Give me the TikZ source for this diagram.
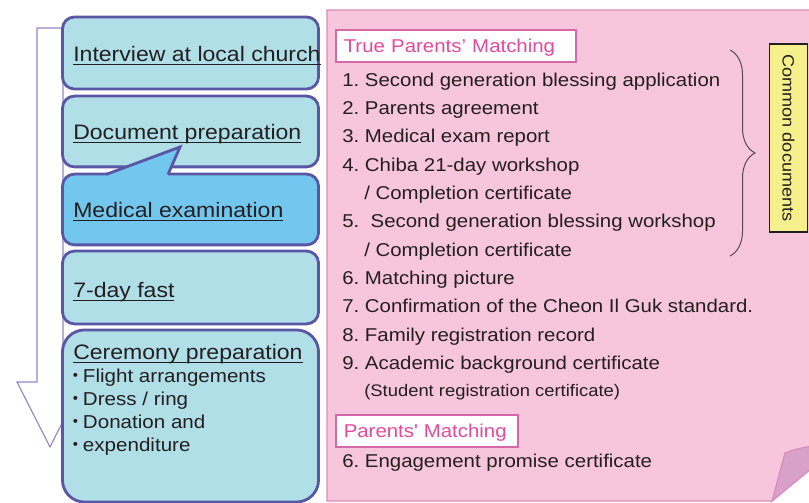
\documentclass[tikz,border=0pt]{standalone}
\usepackage{fontspec}
\setmainfont[FakeStretch=1.1]{Liberation Sans}
\newfontfamily\cjkdot{Noto Sans CJK JP}
\usepackage{tikz}
\usetikzlibrary{decorations.pathreplacing}
\frenchspacing
\definecolor{boxfill}{HTML}{B0DFE7}
\definecolor{medfill}{HTML}{73C7EF}
\definecolor{boxline}{HTML}{5A56A6}
\definecolor{arrline}{HTML}{9485C6}
\definecolor{panelfill}{HTML}{F7C5DC}
\definecolor{panelline}{HTML}{D98BBE}
\definecolor{flapfill}{HTML}{D9A0C9}
\definecolor{tagline}{HTML}{D468A8}
\definecolor{tagtext}{HTML}{E8489B}
\definecolor{txt}{HTML}{231F20}
\definecolor{notefill}{HTML}{F6F08C}
\newlength\ulwd
\newcommand\stepul[1]{\settowidth\ulwd{#1}\rlap{\rule[-2.2pt]{\ulwd}{1.1pt}}#1}
\newcommand\dotmark{\makebox[4.3pt][c]{\cjkdot ・}\hspace{2.6pt}}
\tikzset{stepbox/.style={draw=boxline,fill=boxfill,line width=2pt,rounded corners=0.3cm,minimum width=6.4cm},
  steptext/.style={anchor=base west,inner sep=0pt,text=txt,font=\fontsize{14.9}{18}\selectfont},
  bullet/.style={anchor=base west,inner sep=0pt,text=txt,font=\fontsize{13.3}{16}\selectfont},
  item/.style={anchor=base west,inner sep=0pt,text=txt,font=\fontsize{13.2}{16}\selectfont},
  tagbox/.style={draw=tagline,fill=white,line width=1.8pt,anchor=west,inner xsep=0.2cm,inner ysep=0pt,minimum height=0.8cm,text depth=0pt,text=tagtext,font=\fontsize{13.2}{16}\selectfont},
  notebox/.style={draw=txt,fill=notefill,line width=0.9pt,rotate=-90,minimum width=4.7cm,minimum height=0.95cm,inner sep=0pt,text=txt,font=\fontsize{11.7}{14}\selectfont},
  curly/.style={draw=txt!80,line width=0.7pt,decorate,decoration={brace,amplitude=0.625cm,aspect=0.5}}}

\begin{document}
\begin{tikzpicture}[x=0.025cm,y=-0.025cm]
    \useasboundingbox (0,0) rectangle (809,503);

    \draw[arrline,fill=white,line width=0.8pt] (37,28) -- (63,28) -- (63,382) -- (83,382) -- (50,447) -- (17,382) -- (37,382) -- cycle;

    \node[stepbox,minimum height=1.8cm] (interview) at (190.5,53) {};
    \node[stepbox,minimum height=1.77cm] (docprep) at (190.5,131.5) {};
    \node[stepbox,fill=medfill,minimum height=1.77cm] (medical) at (190.5,209.5) {};
    \node[stepbox,minimum height=1.82cm] (fast) at (190.5,287.5) {};
    \node[stepbox,rounded corners=0.55cm,minimum height=4.3cm] (ceremony) at (190.5,416) {};

    \fill[medfill] (106,174.5) -- (180,147) -- (168,174.5) -- (168,177) -- (106,177) -- cycle;
    \draw[boxline,line width=2pt] (106,174.5) -- (180,147) -- (168,174.5);

    \node[steptext] (interviewtxt) at (73,62) {\stepul{Interview at local church}};
    \node[steptext] (docpreptxt) at (73,140) {\stepul{Document preparation}};
    \node[steptext] (medicaltxt) at (73,218) {\stepul{Medical examination}};
    \node[steptext] (fasttxt) at (73,298) {\stepul{7-day fast}};
    \node[steptext] (ceremonytxt) at (73,360) {\stepul{Ceremony preparation}};
    \node[bullet] (flight) at (73,383) {\dotmark Flight arrangements};
    \node[bullet] (dress) at (73,406) {\dotmark Dress / ring};
    \node[bullet] (donation) at (73,429) {\dotmark Donation and};
    \node[bullet] (expend) at (73,452) {\dotmark expenditure};

    \draw[panelline,fill=panelfill,line width=0.8pt] (327,10) -- (812,10) -- (812,468) -- (772,501) -- (327,501) -- cycle;
    \draw[panelline,fill=flapfill,line width=0.8pt] (772,501) -- (785,453) .. controls (796,449) .. (812,446) -- (812,468) -- cycle;

    \node[tagbox,text width=5.6cm] (tpm) at (334.5,46) {True Parents’ Matching};
    \node[tagbox,text width=4.15cm] (pm) at (334.5,431) {Parents\textquotesingle\ Matching};

    \node[item] (i1) at (342,87) {1. Second generation blessing application};
    \node[item] (i2) at (342,115) {2. Parents agreement};
    \node[item] (i3) at (342,143) {3. Medical exam report};
    \node[item] (i4) at (342,172) {4. Chiba 21-day workshop};
    \node[item] (i4b) at (364,200) {/ Completion certificate};
    \node[item] (i5) at (342,228) {5.~ Second generation blessing workshop};
    \node[item] (i5b) at (364,257) {/ Completion certificate};
    \node[item] (i6) at (342,285) {6. Matching picture};
    \node[item] (i7) at (342,313) {7. Confirmation of the Cheon Il Guk standard.};
    \node[item] (i8) at (342,342) {8. Family registration record};
    \node[item] (i9) at (342,370) {9. Academic background certificate};
    \node[item,font=\fontsize{11.9}{14}\selectfont] (i9b) at (364,397) {(Student registration certificate)};
    \node[item] (e6) at (342,468) {6. Engagement promise certificate};

    \coordinate (bt) at (730,50);
    \coordinate (bb) at (730,256);
    \draw[curly] (bt) -- (bb);
    \node[notebox] (common) at (788.5,138) {Common documents};
\end{tikzpicture}
\end{document}
